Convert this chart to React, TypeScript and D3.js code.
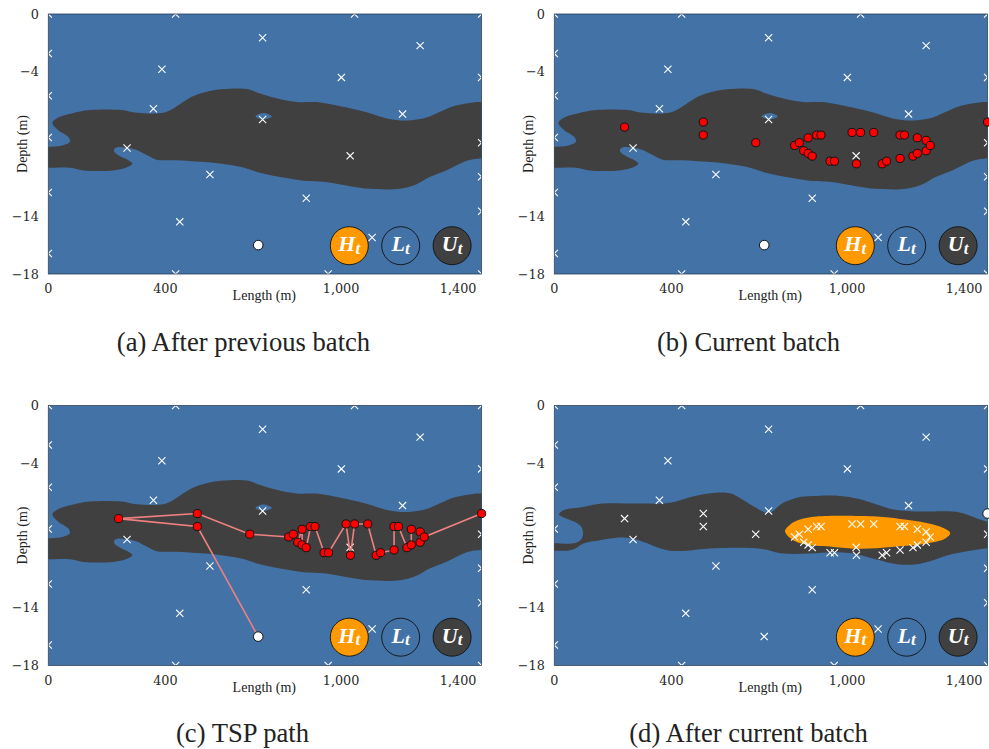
import React from "react";
import * as d3 from "d3";

type P = [number, number];

const xTicks = [0, 400, 1000, 1400];
const yTicks = [0, -4, -14, -18];
const captions = ["(a) After previous batch", "(b) Current batch", "(c) TSP path", "(d) After current batch"];
const legendItems = [
  { name: "H", fill: "#FF9900" },
  { name: "L", fill: "#4272A6" },
  { name: "U", fill: "#404040" },
];

const uncertainBefore: P[] = [
  [14, -7.53], [34, -7.16], [80, -6.88], [142, -6.65], [250, -6.65], [302, -6.84], [393, -6.84], [427, -6.54],
  [490, -5.73], [541, -5.38], [598, -5.2], [678, -5.2], [723, -5.5], [780, -5.84], [848, -6.1], [928, -6.12],
  [1019, -6.47], [1087, -6.81], [1156, -7.23], [1224, -7.37], [1292, -7.16], [1338, -6.77], [1389, -6.35],
  [1452, -6.12], [1480, -6.1], [1510, -6.08], [1510, -9.95], [1480, -9.98], [1429, -10.16], [1361, -10.81],
  [1304, -11.27], [1258, -11.78], [1201, -12.1], [1099, -12.1], [1031, -11.92], [939, -11.62], [882, -11.57],
  [814, -11.36], [723, -10.99], [655, -10.58], [564, -10.3], [507, -10.21], [438, -10.12], [370, -10.09],
  [336, -9.77], [302, -9.42], [268, -9.24], [233, -9.24], [224, -9.42], [233, -9.7], [273, -10.12], [287, -10.35],
  [273, -10.58], [222, -10.83], [120, -10.83], [74, -10.65], [0, -10.65], [-30, -10.65], [-30, -9.13], [0, -9.19],
  [51, -9.08], [74, -8.85], [68, -8.5], [34, -8.04],
];
const holeBefore: P[] = [[708, -7.09], [734, -6.86], [763, -7.09], [734, -7.3]];

const uncertainAfter: P[] = [
  [16, -7.55], [31, -7.25], [99, -7.02], [162, -6.79], [293, -6.79], [395, -6.74], [463, -6.35], [532, -6.07],
  [600, -6.07], [634, -6.4], [680, -6.97], [731, -7.44], [782, -6.74], [839, -6.33], [896, -6.26], [976, -6.26],
  [1038, -6.46], [1101, -6.86], [1158, -7.2], [1238, -7.34], [1363, -7.34], [1409, -7.55], [1454, -7.9],
  [1483, -8.08], [1510, -8.2], [1510, -9.8], [1480, -9.88], [1409, -10.09], [1340, -10.39], [1283, -10.79],
  [1238, -10.99], [1169, -10.99], [1101, -10.67], [1021, -10.25], [953, -10.16], [873, -10.25], [782, -10.25],
  [703, -9.91], [520, -9.91], [452, -10.05], [395, -10.05], [350, -9.82], [315, -9.52], [270, -9.22], [213, -9.15],
  [156, -9.33], [99, -9.56], [71, -9.91], [42, -10.05], [0, -10.05], [-30, -10.05], [-30, -9.52], [0, -9.54],
  [71, -9.52], [93, -9.24], [98, -8.82], [91, -8.36], [65, -8.01], [36, -7.78],
];
const highAfter: P[] = [
  [788, -8.71], [805, -8.25], [839, -7.9], [896, -7.69], [1101, -7.69], [1181, -7.85], [1272, -8.13], [1329, -8.48],
  [1352, -8.82], [1335, -9.21], [1272, -9.56], [1181, -9.75], [1101, -9.88], [1033, -9.91], [953, -9.79],
  [862, -9.63], [816, -9.33],
];

const pastSamples: P[] = [
  [435, 0], [1046, 0], [0, 0], [1480, 0], [732, -1.64], [1270, -2.19], [0, -2.73], [388, -3.83], [1001, -4.39],
  [1480, -4.39], [0, -5.66], [359, -6.56], [1210, -6.93], [732, -7.3], [0, -8.55], [1480, -8.91], [269, -9.28],
  [1031, -9.82], [552, -11.11], [1480, -11.27], [0, -12.36], [881, -12.75], [1480, -13.65], [449, -14.39],
  [1106, -15.47], [0, -16.58], [435, -18], [956, -18], [1480, -18],
];

const startPoint: P = [717, -16];
const batchPath: P[] = [
  [509, -8.38], [240, -7.83], [509, -7.48], [688, -8.91], [821, -9.1], [837, -8.91], [852, -9.47], [867, -8.57],
  [867, -9.65], [881, -9.84], [896, -8.38], [911, -8.38], [942, -10.19], [957, -10.19], [1017, -8.2], [1032, -10.37],
  [1046, -8.2], [1091, -8.2], [1120, -10.37], [1135, -10.19], [1181, -10], [1181, -8.38], [1196, -8.38], [1225, -9.84],
  [1240, -9.65], [1240, -8.57], [1270, -8.75], [1270, -9.47], [1284, -9.1], [1480, -7.48],
];

const W = 433.3;
const H = 260;
const origins: P[] = [[48.3, 14], [554.3, 14], [48.3, 405.5], [554.3, 405.5]];
const captionCenters = [243.5, 748.5, 242.5, 748.5];
const captionY = [351, 351, 742, 742];

const BLUE = "#4272A6";
const DARK = "#404040";
const ORANGE = "#FF9900";
const SERIF = "'Liberation Serif', serif";
const MATH = "'DejaVu Serif', serif";

const x = d3.scaleLinear().domain([0, 1480]).range([0, W]);
const y = d3.scaleLinear().domain([0, -18]).range([0, H]);
const blob = d3.line<P>().x((d) => x(d[0])).y((d) => y(d[1])).curve(d3.curveCatmullRomClosed.alpha(0.5));
const polyline = d3.line<P>().x((d) => x(d[0])).y((d) => y(d[1]));
const fmt = d3.format(",");

function Cross({ p }: { p: P }) {
  const s = 3.6;
  const cx = x(p[0]);
  const cy = y(p[1]);
  return (
    <path
      d={`M${cx - s},${cy - s}L${cx + s},${cy + s}M${cx - s},${cy + s}L${cx + s},${cy - s}`}
      stroke="#fff"
      strokeWidth={1.1}
      fill="none"
    />
  );
}

function Panel({ index }: { index: number }) {
  const [ox, oy] = origins[index];
  const after = index === 3;
  const showBatch = index === 1 || index === 2;
  const clipId = `clip-${index}`;
  const crosses = after ? [...pastSamples, startPoint, ...batchPath.slice(0, -1)] : pastSamples;
  const endPoint = after ? batchPath[batchPath.length - 1] : startPoint;
  return (
    <g transform={`translate(${ox},${oy})`}>
      <clipPath id={clipId}>
        <rect width={W} height={H} />
      </clipPath>
      <g clipPath={`url(#${clipId})`}>
        <rect width={W} height={H} fill={BLUE} />
        <path d={blob(after ? uncertainAfter : uncertainBefore) ?? ""} fill={DARK} />
        {!after && <path d={blob(holeBefore) ?? ""} fill={BLUE} />}
        {after && <path d={blob(highAfter) ?? ""} fill={ORANGE} />}
        {crosses.map((p, i) => (
          <Cross key={i} p={p} />
        ))}
      </g>
      <rect width={W} height={H} fill="none" stroke="#2b3f55" strokeWidth={0.8} />
      {index === 2 && (
        <path d={polyline([startPoint, ...batchPath]) ?? ""} fill="none" stroke="#F08080" strokeWidth={1.6} />
      )}
      {showBatch &&
        batchPath.map((p, i) => (
          <circle key={i} cx={x(p[0])} cy={y(p[1])} r={4.1} fill="#FF0000" stroke="#111" strokeWidth={1} />
        ))}
      <circle cx={x(endPoint[0])} cy={y(endPoint[1])} r={4.8} fill="#fff" stroke="#111" strokeWidth={1} />
      {legendItems.map((l, i) => {
        const cx = 301 + i * 51.4;
        const cy = 231.7;
        return (
          <g key={l.name}>
            <circle cx={cx} cy={cy} r={19} fill={l.fill} stroke="#111" strokeWidth={0.9} />
            <text
              x={cx}
              y={cy + 5.5}
              textAnchor="middle"
              fill="#fff"
              fontFamily={SERIF}
              fontStyle="italic"
              fontWeight="bold"
              fontSize={22}
            >
              {l.name}
              <tspan dy={2.5} fontSize={17}>t</tspan>
            </text>
          </g>
        );
      })}
      {xTicks.map((t) => (
        <text key={t} x={x(t)} y={H + 19} textAnchor="middle" fontFamily={MATH} fontSize={12.8} fill="#2a2a2a">
          {fmt(t)}
        </text>
      ))}
      {yTicks.map((t) => (
        <text key={t} x={-9.5} y={y(t) + 4.5} textAnchor="end" fontFamily={MATH} fontSize={12.8} fill="#2a2a2a">
          {fmt(t)}
        </text>
      ))}
      <text x={216} y={H + 26} textAnchor="middle" fontFamily={SERIF} fontSize={14} fill="#222">
        Length (m)
      </text>
      <text
        transform={`translate(-21.5,${H / 2}) rotate(-90)`}
        textAnchor="middle"
        fontFamily={SERIF}
        fontSize={14}
        fill="#222"
      >
        Depth (m)
      </text>
    </g>
  );
}

export default function App() {
  return (
    <svg width={989} height={749} style={{ position: "absolute", left: 0, top: 0, display: "block" }}>
      <rect width={989} height={749} fill="#fff" />
      {origins.map((_, i) => (
        <Panel key={i} index={i} />
      ))}
      {captions.map((c, i) => (
        <text key={c} x={captionCenters[i]} y={captionY[i]} textAnchor="middle" fontFamily={SERIF} fontSize={26.6} fill="#222">
          {c}
        </text>
      ))}
    </svg>
  );
}
